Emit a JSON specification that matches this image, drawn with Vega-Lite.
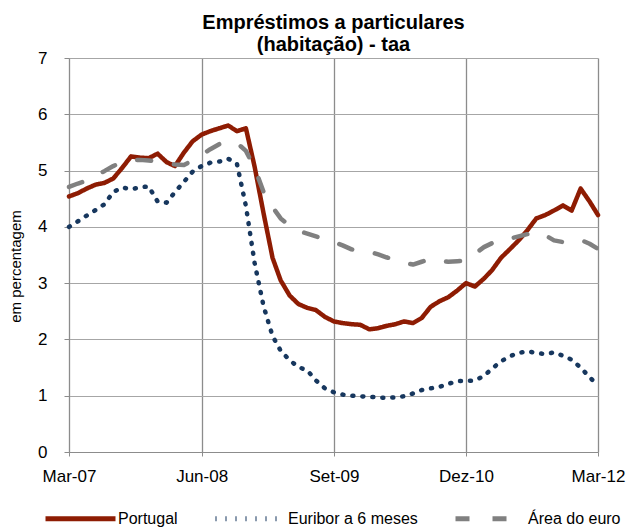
{
  "$schema": "https://vega.github.io/schema/vega-lite/v6.json",
  "width": 529,
  "height": 394,
  "autosize": {"type": "none"},
  "padding": {"left": 69, "top": 58, "right": 32, "bottom": 76},
  "background": "white",
  "title": {
    "text": ["Empréstimos a particulares", "(habitação) - taa"],
    "font": "Liberation Sans Narrow, Liberation Sans",
    "fontSize": 20,
    "fontWeight": "bold",
    "lineHeight": 22,
    "anchor": "middle",
    "frame": "group",
    "dx": 0,
    "offset": -6,
    "color": "#000000"
  },
  "datasets": {
    "series": [
      {"date": "2007-03-01", "serie": "Portugal", "valor": 4.54},
      {"date": "2007-04-01", "serie": "Portugal", "valor": 4.60},
      {"date": "2007-05-01", "serie": "Portugal", "valor": 4.68},
      {"date": "2007-06-01", "serie": "Portugal", "valor": 4.75},
      {"date": "2007-07-01", "serie": "Portugal", "valor": 4.78},
      {"date": "2007-08-01", "serie": "Portugal", "valor": 4.86},
      {"date": "2007-09-01", "serie": "Portugal", "valor": 5.05},
      {"date": "2007-10-01", "serie": "Portugal", "valor": 5.25},
      {"date": "2007-11-01", "serie": "Portugal", "valor": 5.23},
      {"date": "2007-12-01", "serie": "Portugal", "valor": 5.22},
      {"date": "2008-01-01", "serie": "Portugal", "valor": 5.30},
      {"date": "2008-02-01", "serie": "Portugal", "valor": 5.15},
      {"date": "2008-03-01", "serie": "Portugal", "valor": 5.08},
      {"date": "2008-04-01", "serie": "Portugal", "valor": 5.32},
      {"date": "2008-05-01", "serie": "Portugal", "valor": 5.52},
      {"date": "2008-06-01", "serie": "Portugal", "valor": 5.64},
      {"date": "2008-07-01", "serie": "Portugal", "valor": 5.70},
      {"date": "2008-08-01", "serie": "Portugal", "valor": 5.75},
      {"date": "2008-09-01", "serie": "Portugal", "valor": 5.80},
      {"date": "2008-10-01", "serie": "Portugal", "valor": 5.70},
      {"date": "2008-11-01", "serie": "Portugal", "valor": 5.75},
      {"date": "2008-12-01", "serie": "Portugal", "valor": 5.07},
      {"date": "2009-01-01", "serie": "Portugal", "valor": 4.24},
      {"date": "2009-02-01", "serie": "Portugal", "valor": 3.45},
      {"date": "2009-03-01", "serie": "Portugal", "valor": 3.05},
      {"date": "2009-04-01", "serie": "Portugal", "valor": 2.78},
      {"date": "2009-05-01", "serie": "Portugal", "valor": 2.63},
      {"date": "2009-06-01", "serie": "Portugal", "valor": 2.56},
      {"date": "2009-07-01", "serie": "Portugal", "valor": 2.52},
      {"date": "2009-08-01", "serie": "Portugal", "valor": 2.40},
      {"date": "2009-09-01", "serie": "Portugal", "valor": 2.32},
      {"date": "2009-10-01", "serie": "Portugal", "valor": 2.29},
      {"date": "2009-11-01", "serie": "Portugal", "valor": 2.27},
      {"date": "2009-12-01", "serie": "Portugal", "valor": 2.26},
      {"date": "2010-01-01", "serie": "Portugal", "valor": 2.18},
      {"date": "2010-02-01", "serie": "Portugal", "valor": 2.20},
      {"date": "2010-03-01", "serie": "Portugal", "valor": 2.24},
      {"date": "2010-04-01", "serie": "Portugal", "valor": 2.27},
      {"date": "2010-05-01", "serie": "Portugal", "valor": 2.32},
      {"date": "2010-06-01", "serie": "Portugal", "valor": 2.29},
      {"date": "2010-07-01", "serie": "Portugal", "valor": 2.38},
      {"date": "2010-08-01", "serie": "Portugal", "valor": 2.58},
      {"date": "2010-09-01", "serie": "Portugal", "valor": 2.68},
      {"date": "2010-10-01", "serie": "Portugal", "valor": 2.75},
      {"date": "2010-11-01", "serie": "Portugal", "valor": 2.87},
      {"date": "2010-12-01", "serie": "Portugal", "valor": 3.00},
      {"date": "2011-01-01", "serie": "Portugal", "valor": 2.94},
      {"date": "2011-02-01", "serie": "Portugal", "valor": 3.08},
      {"date": "2011-03-01", "serie": "Portugal", "valor": 3.23},
      {"date": "2011-04-01", "serie": "Portugal", "valor": 3.45},
      {"date": "2011-05-01", "serie": "Portugal", "valor": 3.60},
      {"date": "2011-06-01", "serie": "Portugal", "valor": 3.76},
      {"date": "2011-07-01", "serie": "Portugal", "valor": 3.94},
      {"date": "2011-08-01", "serie": "Portugal", "valor": 4.15},
      {"date": "2011-09-01", "serie": "Portugal", "valor": 4.21},
      {"date": "2011-10-01", "serie": "Portugal", "valor": 4.29},
      {"date": "2011-11-01", "serie": "Portugal", "valor": 4.38},
      {"date": "2011-12-01", "serie": "Portugal", "valor": 4.29},
      {"date": "2012-01-01", "serie": "Portugal", "valor": 4.68},
      {"date": "2012-02-01", "serie": "Portugal", "valor": 4.45},
      {"date": "2012-03-01", "serie": "Portugal", "valor": 4.21},

      {"date": "2007-03-01", "serie": "Euribor a 6 meses", "valor": 4.00},
      {"date": "2007-04-01", "serie": "Euribor a 6 meses", "valor": 4.10},
      {"date": "2007-05-01", "serie": "Euribor a 6 meses", "valor": 4.20},
      {"date": "2007-06-01", "serie": "Euribor a 6 meses", "valor": 4.30},
      {"date": "2007-07-01", "serie": "Euribor a 6 meses", "valor": 4.40},
      {"date": "2007-08-01", "serie": "Euribor a 6 meses", "valor": 4.62},
      {"date": "2007-09-01", "serie": "Euribor a 6 meses", "valor": 4.70},
      {"date": "2007-10-01", "serie": "Euribor a 6 meses", "valor": 4.67},
      {"date": "2007-11-01", "serie": "Euribor a 6 meses", "valor": 4.70},
      {"date": "2007-12-01", "serie": "Euribor a 6 meses", "valor": 4.72},
      {"date": "2008-01-01", "serie": "Euribor a 6 meses", "valor": 4.45},
      {"date": "2008-02-01", "serie": "Euribor a 6 meses", "valor": 4.43},
      {"date": "2008-03-01", "serie": "Euribor a 6 meses", "valor": 4.62},
      {"date": "2008-04-01", "serie": "Euribor a 6 meses", "valor": 4.80},
      {"date": "2008-05-01", "serie": "Euribor a 6 meses", "valor": 4.98},
      {"date": "2008-06-01", "serie": "Euribor a 6 meses", "valor": 5.08},
      {"date": "2008-07-01", "serie": "Euribor a 6 meses", "valor": 5.14},
      {"date": "2008-08-01", "serie": "Euribor a 6 meses", "valor": 5.16},
      {"date": "2008-09-01", "serie": "Euribor a 6 meses", "valor": 5.21},
      {"date": "2008-10-01", "serie": "Euribor a 6 meses", "valor": 5.12},
      {"date": "2008-11-01", "serie": "Euribor a 6 meses", "valor": 4.37},
      {"date": "2008-12-01", "serie": "Euribor a 6 meses", "valor": 3.36},
      {"date": "2009-01-01", "serie": "Euribor a 6 meses", "valor": 2.59},
      {"date": "2009-02-01", "serie": "Euribor a 6 meses", "valor": 2.06},
      {"date": "2009-03-01", "serie": "Euribor a 6 meses", "valor": 1.80},
      {"date": "2009-04-01", "serie": "Euribor a 6 meses", "valor": 1.63},
      {"date": "2009-05-01", "serie": "Euribor a 6 meses", "valor": 1.51},
      {"date": "2009-06-01", "serie": "Euribor a 6 meses", "valor": 1.45},
      {"date": "2009-07-01", "serie": "Euribor a 6 meses", "valor": 1.27},
      {"date": "2009-08-01", "serie": "Euribor a 6 meses", "valor": 1.13},
      {"date": "2009-09-01", "serie": "Euribor a 6 meses", "valor": 1.06},
      {"date": "2009-10-01", "serie": "Euribor a 6 meses", "valor": 1.02},
      {"date": "2009-11-01", "serie": "Euribor a 6 meses", "valor": 1.00},
      {"date": "2009-12-01", "serie": "Euribor a 6 meses", "valor": 0.99},
      {"date": "2010-01-01", "serie": "Euribor a 6 meses", "valor": 0.98},
      {"date": "2010-02-01", "serie": "Euribor a 6 meses", "valor": 0.97},
      {"date": "2010-03-01", "serie": "Euribor a 6 meses", "valor": 0.96},
      {"date": "2010-04-01", "serie": "Euribor a 6 meses", "valor": 0.97},
      {"date": "2010-05-01", "serie": "Euribor a 6 meses", "valor": 0.99},
      {"date": "2010-06-01", "serie": "Euribor a 6 meses", "valor": 1.04},
      {"date": "2010-07-01", "serie": "Euribor a 6 meses", "valor": 1.10},
      {"date": "2010-08-01", "serie": "Euribor a 6 meses", "valor": 1.13},
      {"date": "2010-09-01", "serie": "Euribor a 6 meses", "valor": 1.16},
      {"date": "2010-10-01", "serie": "Euribor a 6 meses", "valor": 1.21},
      {"date": "2010-11-01", "serie": "Euribor a 6 meses", "valor": 1.26},
      {"date": "2010-12-01", "serie": "Euribor a 6 meses", "valor": 1.26},
      {"date": "2011-01-01", "serie": "Euribor a 6 meses", "valor": 1.27},
      {"date": "2011-02-01", "serie": "Euribor a 6 meses", "valor": 1.35},
      {"date": "2011-03-01", "serie": "Euribor a 6 meses", "valor": 1.48},
      {"date": "2011-04-01", "serie": "Euribor a 6 meses", "valor": 1.61},
      {"date": "2011-05-01", "serie": "Euribor a 6 meses", "valor": 1.70},
      {"date": "2011-06-01", "serie": "Euribor a 6 meses", "valor": 1.76},
      {"date": "2011-07-01", "serie": "Euribor a 6 meses", "valor": 1.79},
      {"date": "2011-08-01", "serie": "Euribor a 6 meses", "valor": 1.76},
      {"date": "2011-09-01", "serie": "Euribor a 6 meses", "valor": 1.74},
      {"date": "2011-10-01", "serie": "Euribor a 6 meses", "valor": 1.77},
      {"date": "2011-11-01", "serie": "Euribor a 6 meses", "valor": 1.71},
      {"date": "2011-12-01", "serie": "Euribor a 6 meses", "valor": 1.64},
      {"date": "2012-01-01", "serie": "Euribor a 6 meses", "valor": 1.50},
      {"date": "2012-02-01", "serie": "Euribor a 6 meses", "valor": 1.33},
      {"date": "2012-03-01", "serie": "Euribor a 6 meses", "valor": 1.18},

      {"date": "2007-03-01", "serie": "Área do euro", "valor": 4.71},
      {"date": "2007-04-01", "serie": "Área do euro", "valor": 4.77},
      {"date": "2007-05-01", "serie": "Área do euro", "valor": 4.82},
      {"date": "2007-06-01", "serie": "Área do euro", "valor": 4.91},
      {"date": "2007-07-01", "serie": "Área do euro", "valor": 4.99},
      {"date": "2007-08-01", "serie": "Área do euro", "valor": 5.08},
      {"date": "2007-09-01", "serie": "Área do euro", "valor": 5.15},
      {"date": "2007-10-01", "serie": "Área do euro", "valor": 5.18},
      {"date": "2007-11-01", "serie": "Área do euro", "valor": 5.19},
      {"date": "2007-12-01", "serie": "Área do euro", "valor": 5.18},
      {"date": "2008-01-01", "serie": "Área do euro", "valor": 5.16},
      {"date": "2008-02-01", "serie": "Área do euro", "valor": 5.13},
      {"date": "2008-03-01", "serie": "Área do euro", "valor": 5.11},
      {"date": "2008-04-01", "serie": "Área do euro", "valor": 5.10},
      {"date": "2008-05-01", "serie": "Área do euro", "valor": 5.18},
      {"date": "2008-06-01", "serie": "Área do euro", "valor": 5.28},
      {"date": "2008-07-01", "serie": "Área do euro", "valor": 5.38},
      {"date": "2008-08-01", "serie": "Área do euro", "valor": 5.47},
      {"date": "2008-09-01", "serie": "Área do euro", "valor": 5.50},
      {"date": "2008-10-01", "serie": "Área do euro", "valor": 5.49},
      {"date": "2008-11-01", "serie": "Área do euro", "valor": 5.35},
      {"date": "2008-12-01", "serie": "Área do euro", "valor": 5.05},
      {"date": "2009-01-01", "serie": "Área do euro", "valor": 4.62},
      {"date": "2009-02-01", "serie": "Área do euro", "valor": 4.35},
      {"date": "2009-03-01", "serie": "Área do euro", "valor": 4.15},
      {"date": "2009-04-01", "serie": "Área do euro", "valor": 4.02},
      {"date": "2009-05-01", "serie": "Área do euro", "valor": 3.93},
      {"date": "2009-06-01", "serie": "Área do euro", "valor": 3.88},
      {"date": "2009-07-01", "serie": "Área do euro", "valor": 3.83},
      {"date": "2009-08-01", "serie": "Área do euro", "valor": 3.78},
      {"date": "2009-09-01", "serie": "Área do euro", "valor": 3.73},
      {"date": "2009-10-01", "serie": "Área do euro", "valor": 3.67},
      {"date": "2009-11-01", "serie": "Área do euro", "valor": 3.60},
      {"date": "2009-12-01", "serie": "Área do euro", "valor": 3.58},
      {"date": "2010-01-01", "serie": "Área do euro", "valor": 3.56},
      {"date": "2010-02-01", "serie": "Área do euro", "valor": 3.51},
      {"date": "2010-03-01", "serie": "Área do euro", "valor": 3.46},
      {"date": "2010-04-01", "serie": "Área do euro", "valor": 3.41},
      {"date": "2010-05-01", "serie": "Área do euro", "valor": 3.36},
      {"date": "2010-06-01", "serie": "Área do euro", "valor": 3.33},
      {"date": "2010-07-01", "serie": "Área do euro", "valor": 3.38},
      {"date": "2010-08-01", "serie": "Área do euro", "valor": 3.43},
      {"date": "2010-09-01", "serie": "Área do euro", "valor": 3.40},
      {"date": "2010-10-01", "serie": "Área do euro", "valor": 3.38},
      {"date": "2010-11-01", "serie": "Área do euro", "valor": 3.39},
      {"date": "2010-12-01", "serie": "Área do euro", "valor": 3.40},
      {"date": "2011-01-01", "serie": "Área do euro", "valor": 3.52},
      {"date": "2011-02-01", "serie": "Área do euro", "valor": 3.64},
      {"date": "2011-03-01", "serie": "Área do euro", "valor": 3.71},
      {"date": "2011-04-01", "serie": "Área do euro", "valor": 3.77},
      {"date": "2011-05-01", "serie": "Área do euro", "valor": 3.79},
      {"date": "2011-06-01", "serie": "Área do euro", "valor": 3.83},
      {"date": "2011-07-01", "serie": "Área do euro", "valor": 3.87},
      {"date": "2011-08-01", "serie": "Área do euro", "valor": 3.91},
      {"date": "2011-09-01", "serie": "Área do euro", "valor": 3.85},
      {"date": "2011-10-01", "serie": "Área do euro", "valor": 3.76},
      {"date": "2011-11-01", "serie": "Área do euro", "valor": 3.73},
      {"date": "2011-12-01", "serie": "Área do euro", "valor": 3.75},
      {"date": "2012-01-01", "serie": "Área do euro", "valor": 3.77},
      {"date": "2012-02-01", "serie": "Área do euro", "valor": 3.70},
      {"date": "2012-03-01", "serie": "Área do euro", "valor": 3.61}
    ]
  },
  "data": {"name": "series"},
  "mark": {"type": "line", "strokeWidth": 4.5, "strokeCap": "round", "strokeJoin": "round"},
  "encoding": {
    "x": {
      "field": "date",
      "type": "temporal",
      "scale": {
        "type": "utc",
        "domain": [
          {"year": 2007, "month": 3, "date": 1, "utc": true},
          {"year": 2012, "month": 3, "date": 1, "utc": true}
        ],
        "nice": false
      },
      "axis": {
        "title": null,
        "values": [
          {"year": 2007, "month": 3, "date": 1, "utc": true},
          {"year": 2008, "month": 6, "date": 1, "utc": true},
          {"year": 2009, "month": 9, "date": 1, "utc": true},
          {"year": 2010, "month": 12, "date": 1, "utc": true},
          {"year": 2012, "month": 3, "date": 1, "utc": true}
        ],
        "labelExpr": "['Jan','Fev','Mar','Abr','Mai','Jun','Jul','Ago','Set','Out','Nov','Dez'][utcmonth(datum.value)] + '-' + utcFormat(datum.value, '%y')",
        "labelFlush": false,
        "labelOverlap": false,
        "labelFont": "Liberation Sans",
        "labelFontSize": 17,
        "labelColor": "#000000",
        "labelPadding": 12,
        "tickSize": 4,
        "tickColor": "#8C8C8C",
        "domainColor": "#8C8C8C",
        "grid": true,
        "gridColor": "#8C8C8C",
        "gridWidth": 1.3
      }
    },
    "y": {
      "field": "valor",
      "type": "quantitative",
      "scale": {"domain": [0, 7], "nice": false},
      "axis": {
        "title": "em percentagem",
        "titleFont": "Liberation Sans",
        "titleFontSize": 15,
        "titleFontWeight": "normal",
        "titleColor": "#000000",
        "titleX": -49,
        "titleY": 208,
        "titleAngle": -90,
        "titleAlign": "center",
        "titleBaseline": "alphabetic",
        "values": [0, 1, 2, 3, 4, 5, 6, 7],
        "labelFont": "Liberation Sans",
        "labelFontSize": 17,
        "labelColor": "#000000",
        "labelPadding": 17,
        "tickSize": 5,
        "tickColor": "#8C8C8C",
        "domainColor": "#8C8C8C",
        "grid": true,
        "gridColor": "#A6A6A6",
        "gridWidth": 1.2
      }
    },
    "color": {
      "field": "serie",
      "type": "nominal",
      "scale": {
        "domain": ["Portugal", "Euribor a 6 meses", "Área do euro"],
        "range": ["#8E1C03", "#17375E", "#808080"]
      },
      "legend": {
        "title": null,
        "orient": "none",
        "direction": "horizontal",
        "legendX": -26,
        "legendY": 423,
        "symbolType": "stroke",
        "symbolSize": 4900,
        "symbolStrokeWidth": 5,
        "symbolOpacity": 1,
        "labelFont": "Liberation Sans",
        "labelFontSize": 16,
        "labelColor": "#000000",
        "labelOffset": 0,
        "columnPadding": 27,
        "padding": 0
      }
    },
    "strokeDash": {
      "field": "serie",
      "type": "nominal",
      "scale": {
        "domain": ["Portugal", "Euribor a 6 meses", "Área do euro"],
        "range": [[1, 0], [1, 9], [14, 23]]
      },
      "legend": {
        "title": null,
        "orient": "none",
        "direction": "horizontal",
        "legendX": -26,
        "legendY": 423,
        "symbolType": "stroke",
        "symbolSize": 4900,
        "symbolStrokeWidth": 5,
        "symbolOpacity": 1,
        "labelFont": "Liberation Sans",
        "labelFontSize": 16,
        "labelColor": "#000000",
        "labelOffset": 0,
        "columnPadding": 27,
        "padding": 0
      }
    }
  },
  "config": {
    "view": {"stroke": null},
    "legend": {"symbolStrokeColor": null}
  }
}
